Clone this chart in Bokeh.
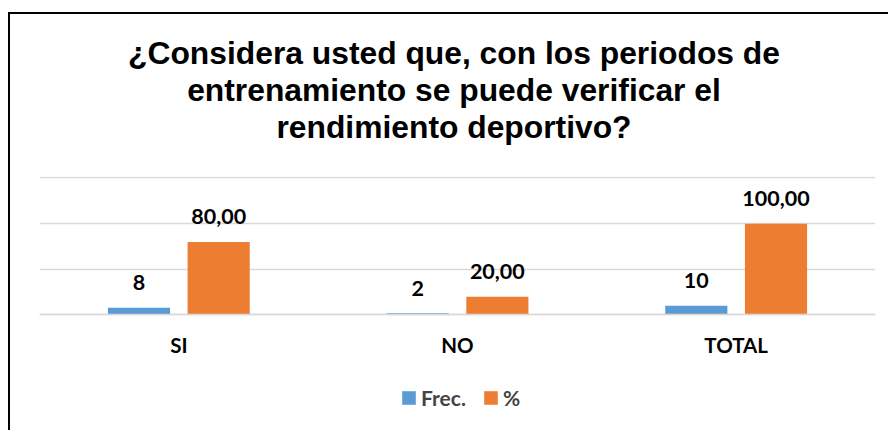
from bokeh.plotting import figure
from bokeh.models import ColumnDataSource, FactorRange, LabelSet, Legend, LegendItem, Div
from bokeh.layouts import column
from bokeh.core.properties import value
from bokeh.transform import dodge
from bokeh.embed import file_html
from bokeh.resources import INLINE

categories = ["SI", "NO", "TOTAL"]
frec = [8, 2, 10]
pct = [80.0, 20.0, 100.0]
frec_labels = [str(v) for v in frec]
pct_labels = [f"{v:.2f}".replace(".", ",") for v in pct]
title_lines = ["¿Considera usted que, con los periodos de",
               "entrenamiento se puede verificar el",
               "rendimiento deportivo?"]

BLUE = "#5B9BD5"
ORANGE = "#ED7D31"
GRID = "#D9D9D9"

src = ColumnDataSource(dict(cat=categories, frec=frec, pct=pct,
                            frec_lbl=frec_labels, pct_lbl=pct_labels))

title_div = Div(text="<br>".join(title_lines), width=878, height=148,
                styles={"font-family": "Liberation Sans", "font-weight": "bold",
                        "font-size": "31.8px", "line-height": "37px",
                        "text-align": "center", "color": "#000000",
                        "padding-top": "16px", "box-sizing": "border-box",
                        "width": "878px"})

p = figure(frame_width=836, frame_height=249, output_backend="svg", toolbar_location=None,
           x_range=FactorRange(factors=categories, range_padding=0),
           y_range=(-121.0, 151.6), title=None,
           min_border_left=29, min_border_right=13, min_border_top=4, min_border_bottom=5)

off = 0.143
w = 0.223
r1 = p.vbar(x=dodge("cat", -off, range=p.x_range), top="frec", width=w, source=src,
            fill_color=BLUE, line_color=None)
r2 = p.vbar(x=dodge("cat", off, range=p.x_range), top="pct", width=w, source=src,
            fill_color=ORANGE, line_color=None)

lbl_font = "Lato"
for col, lcol, o in (("frec", "frec_lbl", -off), ("pct", "pct_lbl", off)):
    ls = LabelSet(x=dodge("cat", o, range=p.x_range), y=col, text=lcol, source=src,
                  text_align="center", text_baseline="alphabetic", y_offset=17.5,
                  text_font=value(lbl_font), text_font_style="bold", text_font_size="21.5px",
                  text_color="#000000")
    p.add_layout(ls)

p.yaxis.visible = False
p.xgrid.grid_line_color = None
p.ygrid.grid_line_color = GRID
p.ygrid.grid_line_width = 1.5
p.yaxis.ticker = [0, 50, 100, 150]
p.ygrid.ticker = [0, 50, 100, 150]
p.xaxis.fixed_location = 0
p.xaxis.axis_line_color = GRID
p.xaxis.axis_line_width = 1.5
p.xaxis.major_tick_line_color = None
p.xaxis.minor_tick_line_color = None
p.xaxis.major_label_text_font = lbl_font
p.xaxis.major_label_text_font_style = "bold"
p.xaxis.major_label_text_font_size = "20.5px"
p.xaxis.major_label_text_color = "#000000"
p.xaxis.major_label_standoff = 12
p.outline_line_color = None

legend = Legend(items=[LegendItem(label="Frec.", renderers=[r1]),
                       LegendItem(label="%", renderers=[r2])],
                orientation="horizontal", location=(361, 15),
                label_text_font=lbl_font, label_text_font_style="bold",
                label_text_font_size="21px", glyph_width=17, glyph_height=17,
                label_standoff=4, spacing=16, border_line_color=None,
                background_fill_alpha=0, margin=0, padding=0,
                label_height=17)
p.add_layout(legend, "center")

layout = column(title_div, p, spacing=0,
                styles={"border-left": "2px solid black", "border-top": "2px solid black",
                        "margin-top": "12px", "margin-left": "8px"})

open("out.html", "w").write(file_html(layout, INLINE))
